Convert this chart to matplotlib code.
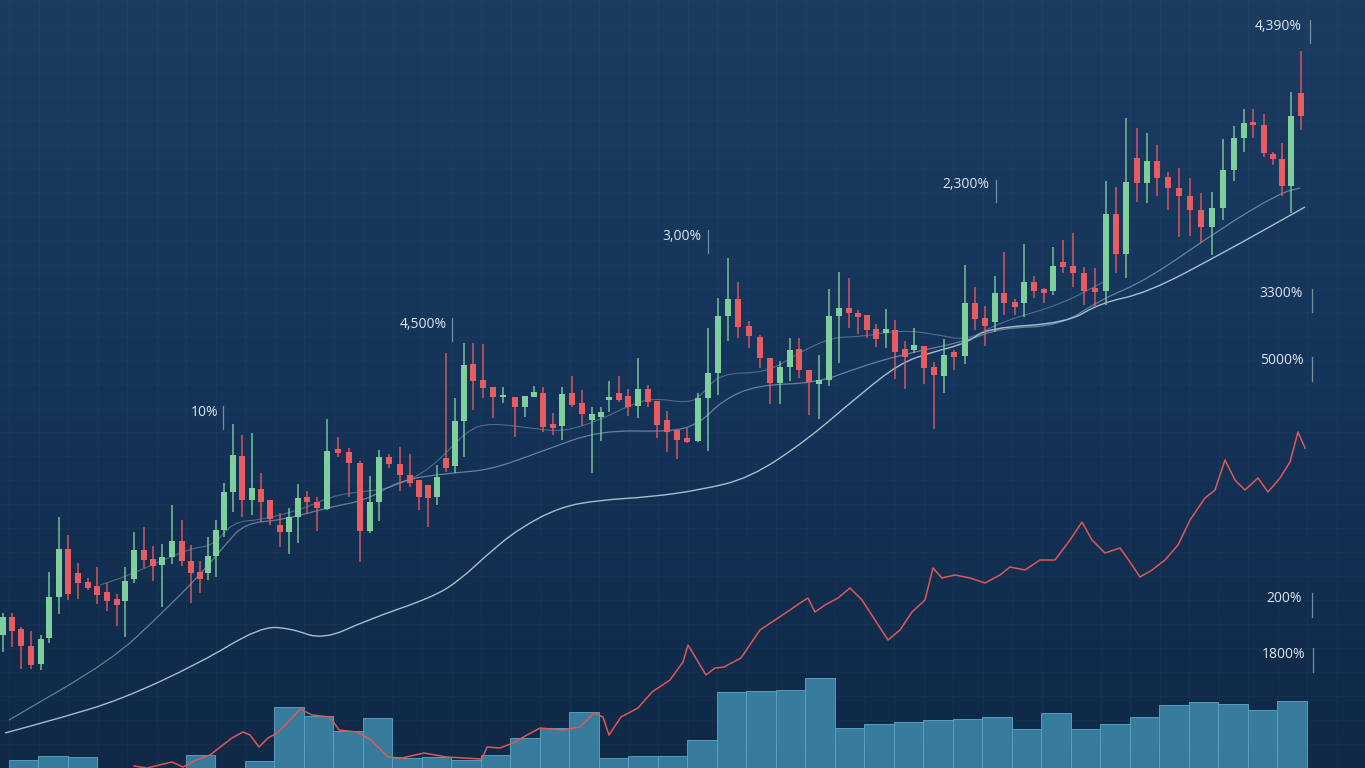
"""Dark candlestick chart with moving averages, a red trend line and volume bars."""

import matplotlib

matplotlib.use("Agg")
import matplotlib.pyplot as plt
import numpy as np
from matplotlib.colors import LinearSegmentedColormap
from matplotlib.patches import PathPatch
from matplotlib.path import Path

W, H = 1365, 768  # output size in px

# --- candles: session time and OHLC prices -------------------------------
CANDLE_T = [3, 12, 21, 31, 41, 49, 59, 68, 78, 88,
            97, 107, 117, 125, 134, 144, 153, 162, 172, 182,
            191, 200, 208, 216, 224, 233, 242, 252, 261, 270,
            280, 289, 298, 307, 317, 327, 338, 349, 360, 370,
            379, 389, 400, 410, 419, 428, 437, 446, 455, 464,
            473, 483, 493, 503, 515, 525, 534, 543, 553, 562,
            572, 582, 592, 601, 609, 619, 628, 638, 648, 657,
            667, 677, 687, 698, 708, 718, 728, 738, 749, 760,
            770, 780, 790, 799, 809, 819, 829, 839, 849, 858,
            867, 876, 886, 895, 905, 914, 924, 934, 944, 954,
            965, 975, 985, 995, 1004, 1015, 1024, 1034, 1044, 1053,
            1063, 1073, 1084, 1095, 1106, 1116, 1126, 1137, 1147, 1157,
            1168, 1179, 1190, 1201, 1212, 1223, 1234, 1244, 1253, 1264,
            1273, 1282, 1291, 1301]
OPEN = [133, 151, 139, 122, 104, 130, 171, 219, 195, 186,
        182, 176, 169, 167, 189, 218, 209, 203, 211, 227,
        207, 196, 195, 212, 238, 276, 312, 268, 279, 268,
        243, 236, 251, 271, 266, 259, 319, 316, 305, 237,
        266, 311, 304, 293, 288, 283, 271, 310, 302, 347,
        404, 388, 381, 371, 371, 361, 371, 375, 344, 342,
        375, 365, 348, 351, 368, 375, 372, 362, 379, 367,
        348, 338, 330, 327, 370, 395, 452, 469, 442, 431,
        410, 385, 401, 419, 398, 384, 388, 452, 460, 455,
        453, 439, 435, 438, 419, 418, 422, 401, 392, 416,
        412, 465, 450, 446, 475, 466, 465, 486, 479, 477,
        506, 502, 495, 480, 477, 554, 514, 610, 585, 607,
        591, 580, 572, 558, 541, 560, 598, 630, 646, 643,
        614, 609, 582, 675]
CLOSE = [151, 137, 122, 103, 129, 171, 219, 174, 185, 180,
         173, 167, 163, 187, 218, 208, 202, 211, 227, 207,
         195, 189, 212, 238, 276, 313, 268, 280, 266, 249,
         236, 251, 270, 266, 260, 317, 315, 305, 237, 266,
         311, 304, 293, 285, 271, 270, 291, 300, 347, 403,
         387, 380, 371, 373, 361, 372, 376, 341, 340, 374,
         363, 354, 354, 356, 371, 368, 361, 379, 366, 343,
         336, 328, 326, 370, 395, 452, 469, 441, 432, 410,
         385, 401, 418, 398, 386, 388, 452, 460, 455, 451,
         438, 429, 439, 416, 411, 423, 400, 393, 413, 411,
         465, 449, 442, 475, 465, 461, 486, 477, 475, 502,
         501, 495, 477, 476, 554, 514, 586, 585, 607, 590,
         580, 572, 558, 541, 560, 598, 630, 645, 643, 615,
         609, 582, 652, 652]
HIGH = [155, 155, 141, 137, 133, 196, 251, 233, 205, 190,
        201, 185, 174, 201, 236, 241, 222, 224, 263, 248,
        223, 207, 231, 248, 285, 344, 333, 335, 295, 268,
        255, 260, 284, 277, 271, 349, 331, 320, 307, 292,
        318, 314, 321, 314, 288, 283, 303, 415, 370, 425,
        425, 424, 381, 381, 371, 372, 382, 381, 355, 381,
        392, 378, 361, 361, 387, 392, 379, 410, 383, 367,
        357, 338, 340, 375, 440, 470, 510, 486, 447, 433,
        410, 407, 430, 430, 398, 413, 479, 496, 490, 458,
        453, 444, 459, 448, 427, 440, 422, 406, 429, 418,
        503, 481, 462, 492, 516, 469, 524, 492, 480, 521,
        528, 535, 501, 500, 587, 581, 650, 640, 635, 623,
        596, 600, 590, 575, 576, 629, 642, 659, 659, 654,
        616, 625, 676, 717]
LOW = [116, 121, 99, 99, 98, 125, 154, 168, 169, 178,
       164, 157, 142, 131, 185, 200, 187, 161, 204, 202,
       165, 175, 188, 191, 231, 256, 251, 253, 246, 243,
       221, 214, 225, 254, 237, 258, 311, 271, 206, 235,
       247, 300, 277, 281, 258, 241, 263, 296, 295, 311,
       358, 370, 350, 365, 331, 351, 371, 336, 333, 328,
       361, 342, 295, 327, 356, 366, 352, 350, 361, 330,
       316, 309, 325, 326, 317, 373, 427, 430, 420, 400,
       364, 364, 387, 390, 353, 349, 382, 405, 440, 434,
       430, 421, 420, 389, 379, 415, 384, 339, 375, 398,
       404, 438, 422, 436, 453, 453, 451, 470, 465, 473,
       495, 481, 463, 461, 463, 495, 490, 566, 565, 572,
       558, 531, 532, 525, 513, 548, 587, 616, 630, 611,
       603, 572, 555, 638]

# --- moving averages ----------------------------------------------------
MA_SLOW_T = [5, 60, 120, 200, 260, 290, 323, 367, 433, 460, 490, 520, 560, 600,
             650, 700, 750, 807, 857, 900, 933, 967, 987, 1067, 1100, 1147, 1223, 1305]
MA_SLOW = [35, 50, 68, 105, 141, 140, 128, 148, 171, 188, 216, 240, 261, 268,
           271, 278, 290, 328, 371, 405, 416, 425, 440, 445, 465, 475, 515, 561]
MA_MID_T = [9, 112, 160, 200, 225, 245, 283, 330, 367, 400, 450, 490, 540, 600, 673,
            700, 723, 757, 817, 857, 900, 967, 1000, 1060, 1100, 1147, 1223, 1280, 1300]
MA_MID = [48, 108, 153, 193, 223, 245, 248, 261, 268, 288, 295, 298, 316, 338, 336,
          345, 368, 383, 385, 400, 413, 427, 440, 442, 468, 488, 541, 575, 580]
MA_FAST_T = [100, 130, 190, 213, 233, 260, 300, 330, 350, 377, 393, 430, 467, 490, 530, 563,
             600, 630, 653, 687, 700, 720, 767, 800, 833, 860, 900, 935, 967, 1000, 1060, 1107]
MA_FAST = [183, 193, 220, 222, 246, 248, 258, 271, 275, 278, 281, 298, 338, 345, 340, 336,
           348, 363, 370, 365, 371, 395, 395, 416, 431, 431, 438, 434, 427, 446, 463, 488]

# --- red trend line -----------------------------------------------------
TREND_T = [134, 147, 172, 183, 196, 210, 219, 232, 243, 250,
           259, 268, 277, 290, 300, 312, 330, 339, 357, 371,
           388, 402, 424, 446, 482, 487, 500, 513, 527, 540,
           563, 580, 594, 603, 609, 621, 638, 652, 670, 683,
           688, 697, 706, 715, 724, 741, 760, 775, 790, 800,
           808, 815, 825, 838, 850, 862, 875, 888, 900, 912,
           925, 933, 942, 955, 970, 985, 1000, 1010, 1025, 1040,
           1055, 1070, 1082, 1092, 1105, 1120, 1130, 1140, 1152, 1165,
           1178, 1190, 1205, 1215, 1225, 1235, 1245, 1258, 1268, 1280,
           1290, 1298, 1305]
TREND = [2, 0, 6, 1, 8, 13, 20, 30, 36, 33,
         21, 30, 35, 48, 59, 53, 51, 38, 36, 28,
         11, 10, 15, 11, 9, 21, 20, 25, 33, 40,
         38, 41, 55, 51, 33, 51, 60, 76, 88, 106,
         123, 108, 93, 100, 101, 110, 138, 148, 158, 165,
         170, 156, 163, 170, 180, 168, 148, 128, 138, 156,
         168, 200, 190, 193, 190, 185, 193, 201, 198, 208,
         208, 228, 246, 228, 215, 220, 206, 191, 198, 208,
         223, 248, 270, 278, 308, 288, 278, 290, 276, 290,
         306, 336, 320]

# --- volume bars (one per period) ---------------------------------------
VOLUME = [8, 12, 11, 0, 0, 0, 13, 0, 7, 61,
          52, 37, 50, 10, 11, 8, 13, 30, 40, 56,
          10, 12, 12, 28, 76, 77, 78, 90, 40, 44,
          46, 48, 49, 51, 39, 55, 39, 44, 51, 63,
          66, 64, 58, 67]

# --- percentage callouts ------------------------------------------------
LABELS = ["10%", "4,500%", "3,00%", "2,300%", "4,390%", "3300%", "5000%", "200%", "1800%"]
# layout: text right edge, text centre y, tick x, tick top, tick bottom (px from top-left)
LABEL_POS = [(218, 413, 223, 406, 429), (447, 325, 452, 318, 341), (702, 236, 708, 230, 253),
             (989, 184, 996, 180, 202), (1302, 27, 1310, 20, 43), (1303, 293, 1312, 289, 312),
             (1304, 361, 1312, 357, 381), (1302, 598, 1312, 593, 617), (1305, 654, 1313, 648, 672)]

UP, DOWN = "#7fcf9c", "#e65c60"


def smooth(ax, xs, ys, **kw):
    """Draw a polyline through the points rounded off with quadratic Beziers."""
    pts = np.column_stack([xs, ys]).astype(float)
    mids = (pts[:-1] + pts[1:]) / 2
    verts, codes = [pts[0], mids[0]], [Path.MOVETO, Path.LINETO]
    for i in range(1, len(pts) - 1):
        verts += [pts[i], mids[i]]
        codes += [Path.CURVE3, Path.CURVE3]
    verts.append(pts[-1])
    codes.append(Path.LINETO)
    ax.add_patch(PathPatch(Path(verts, codes), fill=False, **kw))


fig = plt.figure(figsize=(W / 100, H / 100), dpi=100)

# background gradient + faint grid
bg = fig.add_axes([0, 0, 1, 1])
cmap = LinearSegmentedColormap.from_list("bg", ["#0f2946", "#15345a", "#1c3b60"])
grad = np.linspace(0, 1, 256).reshape(-1, 1)
bg.imshow(grad, cmap=cmap, origin="lower", extent=[0, W, 0, H], aspect="auto")
for gx in np.arange(9, W, 29.5):
    bg.axvline(gx, color="white", lw=0.6, alpha=0.03)
for gy in np.arange(0, H, 24):
    bg.axhline(gy, color="white", lw=0.6, alpha=0.025)
bg.set_xlim(0, W)
bg.set_ylim(0, H)
bg.axis("off")

# volume bars
vol = fig.add_axes([0, 0, 1, 1])
vol.patch.set_alpha(0)
idx = np.arange(len(VOLUME))
vol.bar(idx, VOLUME, width=1.0, color="#3a80a2", edgecolor="#5aa0c0", lw=0.7, alpha=0.95)
vol.set_xlim(-0.805, 45.47)
vol.set_ylim(0, H)
vol.axis("off")

# price axes
ax = fig.add_axes([0, 0, 1, 1])
ax.patch.set_alpha(0)
o, c = np.array(OPEN), np.array(CLOSE)
colors = [UP if cc >= oo else DOWN for oo, cc in zip(o, c)]
ax.vlines(CANDLE_T, LOW, HIGH, colors=colors, lw=1.1, alpha=0.9, zorder=3)
ax.bar(CANDLE_T, np.maximum(np.abs(c - o), 2), bottom=np.minimum(o, c), width=6.5,
       color=colors, zorder=4)

smooth(ax, MA_SLOW_T, MA_SLOW, edgecolor="#c3d6e4", lw=1.0, alpha=0.85, zorder=2)
smooth(ax, MA_MID_T, MA_MID, edgecolor="#a9c2d6", lw=0.9, alpha=0.55, zorder=2)
smooth(ax, MA_FAST_T, MA_FAST, edgecolor="#a9c2d6", lw=0.8, alpha=0.4, zorder=2)
ax.plot(TREND_T, TREND, color="#e0575a", lw=1.1, zorder=5)

ax.set_xlim(0, W)
ax.set_ylim(0, H)
ax.axis("off")

for text, (tx, ty, lx, ly0, ly1) in zip(LABELS, LABEL_POS):
    fig.text(tx / W, 1 - ty / H, text, ha="right", va="center", fontsize=10,
             family="Open Sans", color="#dde5ee")
    fig.add_artist(plt.Line2D([lx / W, lx / W], [1 - ly0 / H, 1 - ly1 / H],
                              color="#8ea4ba", lw=0.9, alpha=0.8))

fig.savefig("out.png", dpi=100)
